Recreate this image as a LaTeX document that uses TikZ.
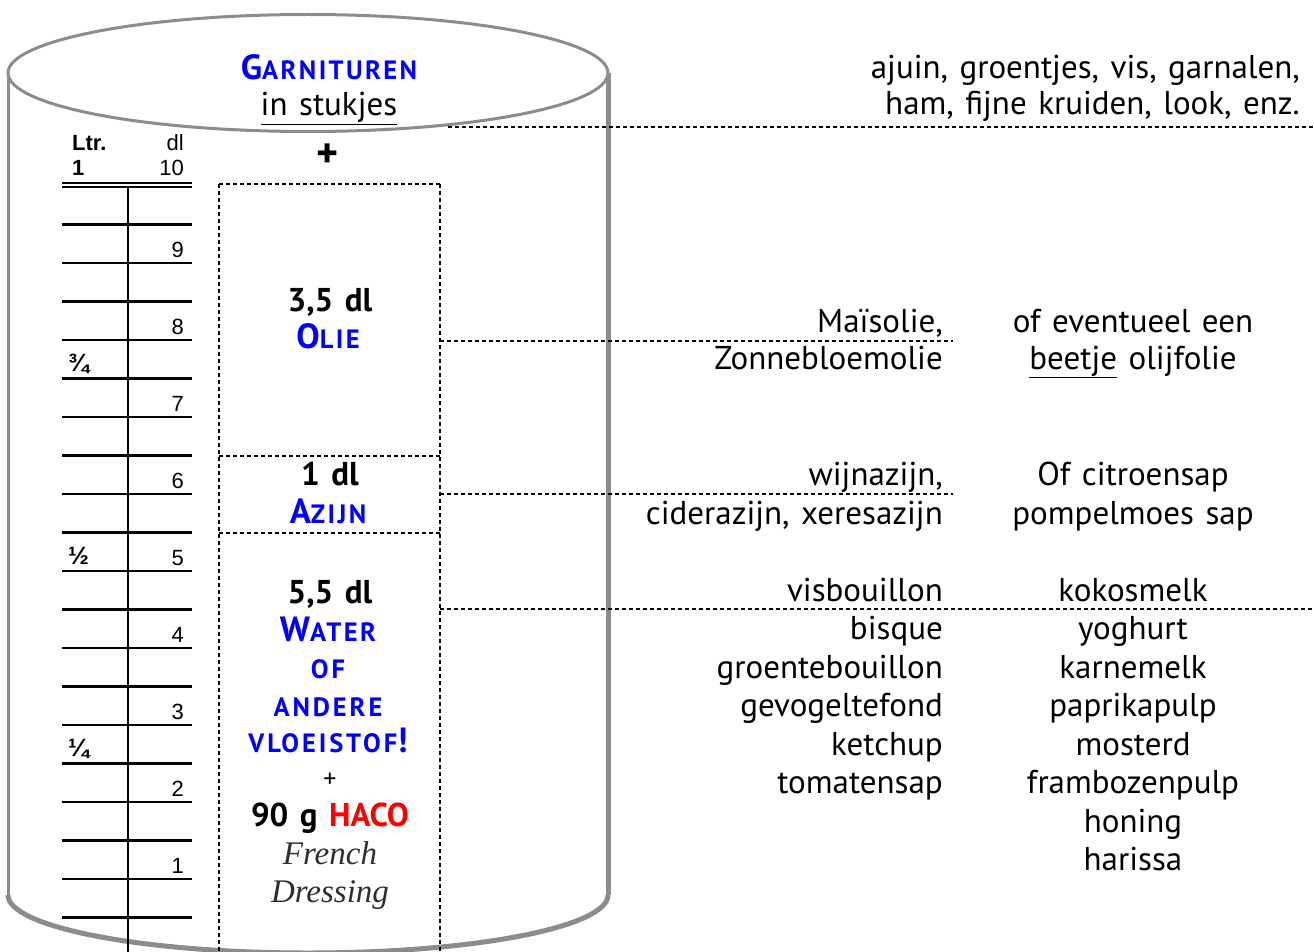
\documentclass[tikz,border=0pt]{standalone}
\usepackage{fontspec}
\usetikzlibrary{shapes.geometric}
\setmainfont{PT Sans}
\newfontfamily\arialf{Liberation Sans}
\newfontfamily\seriff{Liberation Serif}
\definecolor{cylgray}{HTML}{8C8C8C}
\definecolor{capblue}{HTML}{0000FF}
\definecolor{hacored}{HTML}{FF0000}
\definecolor{dressgray}{HTML}{2E2E2E}
\newcommand\bigsz{\fontsize{33}{38}\selectfont\spaceskip=11.5pt plus 2pt minus 2pt\relax}
\newcommand\smsz{\fontsize{26.5}{30}\selectfont}
\newcommand\scl[2]{{\bfseries\color{capblue}\addfontfeature{LetterSpace=9}\fontsize{35}{38}\selectfont #1\smsz #2}}
\newcommand\scs[1]{{\bfseries\color{capblue}\addfontfeature{LetterSpace=11}\smsz #1}}
\tikzset{
  cyl/.style={draw=cylgray, line width=3pt},
  cylthick/.style={draw=cylgray, line width=5pt},
  dl/.style={line width=2pt, dash pattern=on 4pt off 3pt},
  tick/.style={line width=2.5pt},
  txt/.style={inner sep=0pt, font=\bigsz},
  rtxt/.style={txt, anchor=base east},
  ctxt/.style={txt, anchor=base},
  num/.style={inner sep=0pt, anchor=base east, font=\arialf\fontsize{22}{24}\selectfont},
  frac/.style={inner sep=0pt, anchor=base west, font=\arialf\bfseries\fontsize{25}{26}\selectfont},
  region/.style={inner sep=0pt, anchor=north west},
}
\begin{document}
\begin{tikzpicture}[x=1pt,y=-1pt]
\useasboundingbox (0,0) rectangle (1314,952);
\clip (0,0) rectangle (1314,952);
% cylinder
\path[fill=white] (8,73) -- (8,895) .. controls (8,927) and (142,953) .. (308,953) .. controls (474,953) and (608,927) .. (608,895) -- (608,73) -- cycle;
\draw[cyl] (8,73) -- (8,895);
\draw[cylthick] (608,73) -- (608,895);
\draw[cylthick] (8,895) .. controls (8,927) and (142,953) .. (308,953) .. controls (474,953) and (608,927) .. (608,895);
\node[cyl, fill=white, ellipse, minimum width=600, minimum height=117, inner sep=0pt] (top) at (308,73) {};
% heading texts
\node[ctxt] (garn) at (329,80) {\scl{G}{ARNITUREN}};
\node[ctxt] (stuk) at (329,116) {\underline{in stukjes}};
\node[ctxt, font=\bfseries\fontsize{42}{42}\selectfont] (plus) at (328,168) {+};
% scale
\node[inner sep=0pt, anchor=base west, font=\arialf\bfseries\fontsize{22}{24}\selectfont] (ltr) at (72,151) {Ltr.};
\node[num] (dl) at (184,151) {dl};
\node[inner sep=0pt, anchor=base west, font=\arialf\bfseries\fontsize{22}{24}\selectfont] (one) at (72,176) {1};
\node[num] (ten) at (184,176) {10};
\draw[line width=2pt] (62,183) -- (192,183);
\draw[line width=2pt] (62,187) -- (192,187);
\draw[line width=2pt] (128,187) -- (128,960);
\foreach \k in {1,...,19} {
  \draw[tick] (62,{186+38.5*\k}) -- (192,{186+38.5*\k});
}
\foreach \n in {1,...,9} {
  \node[num] (n\n) at (184,{186+77*(10-\n)-6}) {\n};
}
\node[frac] (q3) at (68,{186+38.5*5-7}) {¾};
\node[frac] (q2) at (68,{186+38.5*10-7}) {½};
\node[frac] (q1) at (68,{186+38.5*15-7}) {¼};
% ingredient regions
\node[region, minimum width=221, minimum height=272] (olie) at (219,184) {};
\node[region, minimum width=221, minimum height=77] (azijn) at (219,456) {};
\node[region, minimum width=221, minimum height=430] (water) at (219,533) {};
\draw[dl] (olie.north west) -- (water.south west);
\draw[dl] (olie.north east) -- (water.south east);
\draw[dl] (olie.north west) -- (olie.north east);
\draw[dl] (azijn.north west) -- (azijn.north east);
\draw[dl] (water.north west) -- (water.north east);
\node[ctxt, font=\bigsz\bfseries] (olieq) at (330,311) {3,5 dl};
\node[ctxt] (oliet) at (328,348) {\scl{O}{LIE}};
\node[ctxt, font=\bigsz\bfseries] (azq) at (330,485) {1 dl};
\node[ctxt] (azt) at (328,523) {\scl{A}{ZIJN}};
\node[ctxt, font=\bigsz\bfseries] (wq) at (330,603) {5,5 dl};
\node[ctxt] (wt1) at (328,641) {\scl{W}{ATER}};
\node[ctxt] (wt2) at (328,678) {\scs{OF}};
\node[ctxt] (wt3) at (328,716) {\scs{ANDERE}};
\node[ctxt] (wt4) at (328,752) {\scs{VLOEISTOF}{\bfseries\color{capblue}\fontsize{35}{38}\selectfont !}};
\node[ctxt, font=\fontsize{26}{26}\selectfont] (wplus) at (330,787) {+};
\node[ctxt, font=\bigsz\bfseries] (haco) at (330,826) {90 g \textcolor{hacored}{HACO}};
\node[ctxt, font=\seriff\itshape\fontsize{33}{33}\selectfont, text=dressgray] (fr) at (330,864) {French};
\node[ctxt, font=\seriff\itshape\fontsize{33}{33}\selectfont, text=dressgray] (dr) at (330,902) {Dressing};
% connectors
\coordinate (eTop) at (1314,127);
\coordinate (sTop) at (448,127);
\coordinate (eOlie) at (953,341);
\coordinate (eAz) at (953,494);
\coordinate (eWat) at (1314,609);
\draw[dl] (sTop) -- (eTop);
\draw[dl] (olie.east |- eOlie) -- (eOlie);
\draw[dl] (azijn.east |- eAz) -- (eAz);
\draw[dl] (water.east |- eWat) -- (eWat);
% right texts
\node[rtxt] (g1) at (1300,79) {ajuin, groentjes, vis, garnalen,};
\node[rtxt] (g2) at (1300,115) {ham, fijne kruiden, look, enz.};
\node[rtxt] (o1) at (943,332) {Maïsolie,};
\node[rtxt] (o2) at (943,369) {Zonnebloemolie};
\node[ctxt] (o3) at (1133,332) {of eventueel een};
\node[ctxt] (o4) at (1133,369) {\underline{beetje} olijfolie};
\node[rtxt] (a1) at (943,485) {wijnazijn,};
\node[rtxt] (a2) at (943,524) {ciderazijn, xeresazijn};
\node[ctxt] (a3) at (1133,485) {Of citroensap};
\node[ctxt] (a4) at (1133,524) {pompelmoes sap};
\node[rtxt] (w1) at (943,601) {visbouillon};
\node[rtxt] (w2) at (943,639) {bisque};
\node[rtxt] (w3) at (943,678) {groentebouillon};
\node[rtxt] (w4) at (943,716) {gevogeltefond};
\node[rtxt] (w5) at (943,755) {ketchup};
\node[rtxt] (w6) at (943,793) {tomatensap};
\node[ctxt] (v1) at (1133,601) {kokosmelk};
\node[ctxt] (v2) at (1133,639) {yoghurt};
\node[ctxt] (v3) at (1133,678) {karnemelk};
\node[ctxt] (v4) at (1133,716) {paprikapulp};
\node[ctxt] (v5) at (1133,755) {mosterd};
\node[ctxt] (v6) at (1133,793) {frambozenpulp};
\node[ctxt] (v7) at (1133,832) {honing};
\node[ctxt] (v8) at (1133,870) {harissa};
\end{tikzpicture}
\end{document}
